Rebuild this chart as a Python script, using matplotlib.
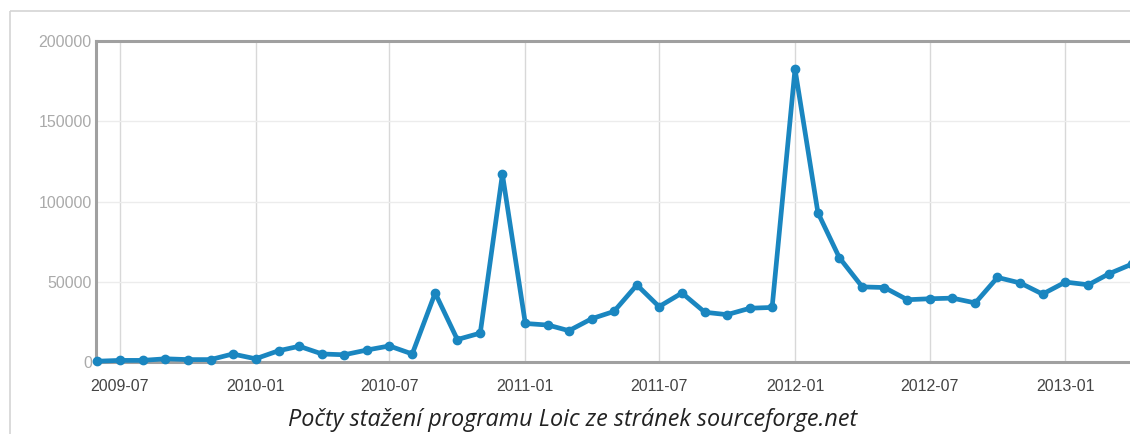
import matplotlib.pyplot as plt
from matplotlib.lines import Line2D
import numpy as np

# monthly downloads
months = np.arange('2009-06', '2013-05', dtype='datetime64[M]')
downloads = [500, 1000, 1000, 2000, 1500, 1500, 5000, 2000, 7000, 9800,
             5000, 4500, 7500, 10000, 5000, 43000, 14000, 18000, 117000,
             24000, 23000, 19500, 27000, 31500, 48000, 34500, 43000, 31000,
             29500, 33500, 34000, 182500, 93000, 65000, 46800, 46400, 38800,
             39400, 39800, 36800, 52700, 49200, 42300, 49800, 48100, 55000, 61000]
tick_labels = ['2009-07', '2010-01', '2010-07', '2011-01', '2011-07',
               '2012-01', '2012-07', '2013-01']
caption = 'Počty stažení programu Loic ze stránek sourceforge.net'

dates = months.astype('datetime64[D]').astype(object)
tick_dates = [np.datetime64(t + '-01').astype(object) for t in tick_labels]

plt.rcParams['font.family'] = ['Liberation Sans', 'DejaVu Sans']

fig = plt.figure(figsize=(11.3, 4.34), dpi=100)

# outer light frame (left and top edges are inside the picture)
fx, fy = 9.5 / 1130, 1 - 10.5 / 434
fig.add_artist(Line2D([fx, fx], [0, fy], transform=fig.transFigure,
                      color='#d4d4d4', linewidth=1.2, solid_capstyle='butt'))
fig.add_artist(Line2D([fx, 1.0], [fy, fy], transform=fig.transFigure,
                      color='#d4d4d4', linewidth=1.2, solid_capstyle='butt'))

ax = fig.add_axes([96 / 1130, 1 - 362 / 434, (1180 - 96) / 1130, 321 / 434])

ax.plot(dates, downloads, color='#1a86c0', linewidth=3.4,
        marker='o', markersize=6, clip_on=False, zorder=3)

ax.set_xlim(np.datetime64('2009-05-30').astype(object),
            np.datetime64('2013-06-05').astype(object))
ax.set_ylim(0, 200000)
ax.set_xticks(tick_dates)
ax.set_xticklabels(tick_labels)
ax.set_yticks([0, 50000, 100000, 150000, 200000])
ax.set_yticklabels(['0', '50000', '100000', '150000', '200000'])

ax.grid(axis='x', color='#d8d8d8', linewidth=1.0)
ax.grid(axis='y', color='#ececec', linewidth=1.0)
ax.set_axisbelow(True)

for s in ['top', 'left', 'bottom']:
    ax.spines[s].set_color('#a0a0a0')
    ax.spines[s].set_linewidth(2.2)
ax.spines['right'].set_visible(False)

ax.tick_params(axis='both', length=0)
ax.tick_params(axis='y', labelsize=11.5, labelcolor='#aaaaaa', pad=3)
ax.tick_params(axis='x', labelsize=11.5, labelcolor='#444444', pad=12)

fig.text(573 / 1130, 1 - 420 / 434, caption, ha='center', va='center',
         fontsize=16.8, style='italic', family='Open Sans', color='#222222')

fig.savefig('out.png', dpi=100)
